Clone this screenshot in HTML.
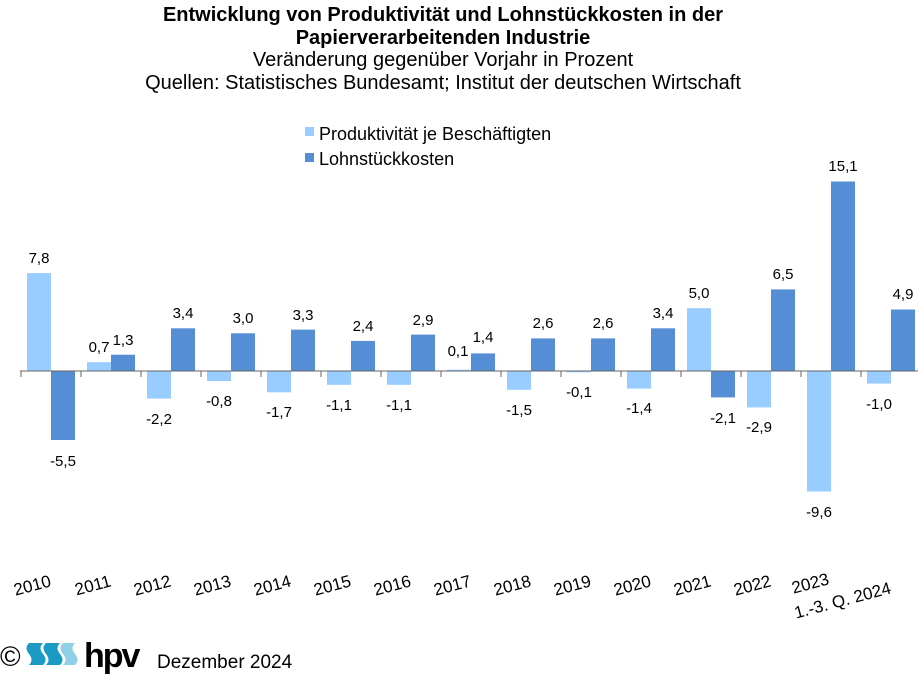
<!DOCTYPE html>
<html><head><meta charset="utf-8"><style>
body{margin:0;background:#fff}
svg{display:block;font-family:"Liberation Sans",sans-serif}
</style></head><body>
<svg width="923" height="680" viewBox="0 0 923 680">
<g text-anchor="middle" fill="#000">
<text x="443" y="21" font-size="20" font-weight="bold">Entwicklung von Produktivität und Lohnstückkosten in der</text>
<text x="443" y="44" font-size="20" font-weight="bold">Papierverarbeitenden Industrie</text>
<text x="443" y="66" font-size="20">Veränderung gegenüber Vorjahr in Prozent</text>
<text x="443" y="89" font-size="20">Quellen: Statistisches Bundesamt; Institut der deutschen Wirtschaft</text>
</g>
<rect x="305" y="127" width="9" height="9" fill="#99ccff"/>
<text x="319" y="140" font-size="18">Produktivität je Beschäftigten</text>
<rect x="305" y="153" width="9" height="9" fill="#558ed5"/>
<text x="319" y="165" font-size="18">Lohnstückkosten</text>
<g fill="#99ccff">
<rect x="27" y="273.1" width="24" height="97.9"/>
<rect x="87" y="362.2" width="24" height="8.8"/>
<rect x="147" y="371" width="24" height="27.6"/>
<rect x="207" y="371" width="24" height="10"/>
<rect x="267" y="371" width="24" height="21.3"/>
<rect x="327" y="371" width="24" height="13.8"/>
<rect x="387" y="371" width="24" height="13.8"/>
<rect x="447" y="369.7" width="24" height="1.3"/>
<rect x="507" y="371" width="24" height="18.8"/>
<rect x="567" y="371" width="24" height="1.3"/>
<rect x="627" y="371" width="24" height="17.6"/>
<rect x="687" y="308.2" width="24" height="62.8"/>
<rect x="747" y="371" width="24" height="36.4"/>
<rect x="807" y="371" width="24" height="120.5"/>
<rect x="867" y="371" width="24" height="12.6"/>
</g>
<g fill="#558ed5">
<rect x="51" y="371" width="24" height="69"/>
<rect x="111" y="354.7" width="24" height="16.3"/>
<rect x="171" y="328.3" width="24" height="42.7"/>
<rect x="231" y="333.3" width="24" height="37.7"/>
<rect x="291" y="329.6" width="24" height="41.4"/>
<rect x="351" y="340.9" width="24" height="30.1"/>
<rect x="411" y="334.6" width="24" height="36.4"/>
<rect x="471" y="353.4" width="24" height="17.6"/>
<rect x="531" y="338.4" width="24" height="32.6"/>
<rect x="591" y="338.4" width="24" height="32.6"/>
<rect x="651" y="328.3" width="24" height="42.7"/>
<rect x="711" y="371" width="24" height="26.4"/>
<rect x="771" y="289.4" width="24" height="81.6"/>
<rect x="831" y="181.5" width="24" height="189.5"/>
<rect x="891" y="309.5" width="24" height="61.5"/>
</g>
<line x1="20" y1="371" x2="918" y2="371" stroke="#666" stroke-width="1"/>
<g stroke="#666" stroke-width="1">
<line x1="21" y1="371" x2="21" y2="377"/><line x1="81" y1="371" x2="81" y2="377"/><line x1="141" y1="371" x2="141" y2="377"/><line x1="201" y1="371" x2="201" y2="377"/><line x1="261" y1="371" x2="261" y2="377"/><line x1="321" y1="371" x2="321" y2="377"/><line x1="381" y1="371" x2="381" y2="377"/><line x1="441" y1="371" x2="441" y2="377"/><line x1="501" y1="371" x2="501" y2="377"/><line x1="561" y1="371" x2="561" y2="377"/><line x1="621" y1="371" x2="621" y2="377"/><line x1="681" y1="371" x2="681" y2="377"/><line x1="741" y1="371" x2="741" y2="377"/><line x1="801" y1="371" x2="801" y2="377"/><line x1="861" y1="371" x2="861" y2="377"/>
</g>
<g font-size="15" text-anchor="middle">
<text x="39" y="263">7,8</text>
<text x="99" y="352">0,7</text>
<text x="159" y="424">-2,2</text>
<text x="219" y="406">-0,8</text>
<text x="279" y="417">-1,7</text>
<text x="339" y="410">-1,1</text>
<text x="399" y="410">-1,1</text>
<text x="458" y="356">0,1</text>
<text x="519" y="415">-1,5</text>
<text x="579" y="397">-0,1</text>
<text x="639" y="413">-1,4</text>
<text x="699" y="298">5,0</text>
<text x="759" y="432">-2,9</text>
<text x="819" y="517">-9,6</text>
<text x="879" y="409">-1,0</text>
<text x="63" y="466">-5,5</text>
<text x="123" y="345">1,3</text>
<text x="183" y="318">3,4</text>
<text x="243" y="323">3,0</text>
<text x="303" y="320">3,3</text>
<text x="363" y="331">2,4</text>
<text x="423" y="325">2,9</text>
<text x="483" y="342">1,4</text>
<text x="543" y="328">2,6</text>
<text x="603" y="328">2,6</text>
<text x="663" y="318">3,4</text>
<text x="723" y="423">-2,1</text>
<text x="783" y="279">6,5</text>
<text x="843" y="171">15,1</text>
<text x="903" y="299">4,9</text>
</g>
<g font-size="17" text-anchor="end">
<text transform="translate(52,586) rotate(-15)">2010</text>
<text transform="translate(112,586) rotate(-15)">2011</text>
<text transform="translate(172,586) rotate(-15)">2012</text>
<text transform="translate(232,586) rotate(-15)">2013</text>
<text transform="translate(292,586) rotate(-15)">2014</text>
<text transform="translate(352,586) rotate(-15)">2015</text>
<text transform="translate(412,586) rotate(-15)">2016</text>
<text transform="translate(472,586) rotate(-15)">2017</text>
<text transform="translate(532,586) rotate(-15)">2018</text>
<text transform="translate(592,586) rotate(-15)">2019</text>
<text transform="translate(652,586) rotate(-15)">2020</text>
<text transform="translate(712,586) rotate(-15)">2021</text>
<text transform="translate(772,586) rotate(-15)">2022</text>
<text transform="translate(830,584) rotate(-15)">2023</text>
<text transform="translate(892,593) rotate(-15)">1.-3. Q. 2024</text>
</g>
<text x="0" y="666" font-size="28">©</text>
<g>
<path d="M29 643 h14 q-5 5 0 11 q5 6 0 11 h-14 q5 -5 0 -11 q-5 -6 0 -11z" fill="#1a9ac4"/>
<path d="M46 643 h14 q-5 5 0 11 q5 6 0 11 h-14 q5 -5 0 -11 q-5 -6 0 -11z" fill="#1a9ac4"/>
<path d="M63 643 h12 q-5 5 0 11 q5 6 0 11 h-12 q5 -5 0 -11 q-5 -6 0 -11z" fill="#8fd0e6"/>
</g>
<text x="84" y="667" font-size="34" font-weight="bold" letter-spacing="-2">hpv</text>
<text x="157" y="668" font-size="19">Dezember 2024</text>
</svg>
</body></html>
